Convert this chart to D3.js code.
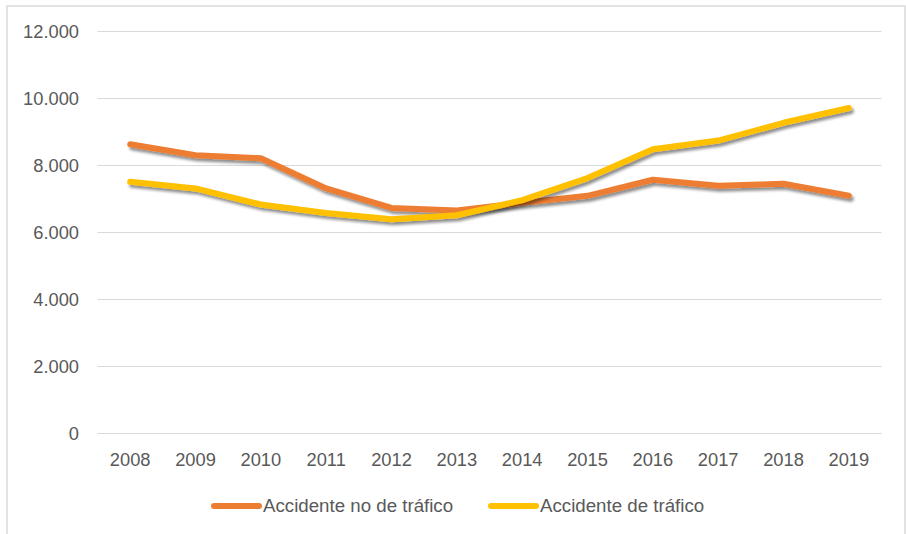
<!DOCTYPE html>
<html>
<head>
<meta charset="utf-8">
<script src="https://cdn.jsdelivr.net/npm/d3@7"></script>
<style>
  body { margin: 0; background: #fff; }
  text { font-family: "Liberation Sans", Arial, sans-serif; fill: #595959; }
</style>
</head>
<body>
<div id="chart"></div>
<script>
/* données */
let years = ['2008', '2009', '2010', '2011', '2012', '2013', '2014', '2015', '2016', '2017', '2018', '2019'];
let noTrafico = [8620, 8290, 8200, 7300, 6720, 6640, 6870, 7080, 7560, 7380, 7440, 7080];
let trafico = [7500, 7300, 6820, 6570, 6380, 6500, 6950, 7610, 8470, 8730, 9260, 9700];
let yTicks = [0, 2000, 4000, 6000, 8000, 10000, 12000];
let seriesNames = ['Accidente no de tráfico', 'Accidente de tráfico'];
let colors = ['#ED7D31', '#FFC000'];

let width = 906,
    height = 534;

let svg = d3.select('#chart').append('svg')
  .attr('width', width)
  .attr('height', height);

/* ombre des lignes */
let filter = svg.append('defs').append('filter')
  .attr('id', 'shadow')
  .attr('x', '-5%').attr('y', '-20%')
  .attr('width', '110%').attr('height', '140%');
filter.append('feGaussianBlur').attr('in', 'SourceAlpha').attr('stdDeviation', 1.8).attr('result', 'blur');
filter.append('feOffset').attr('in', 'blur').attr('dx', 2).attr('dy', 2.5).attr('result', 'off');
filter.append('feComponentTransfer').attr('in', 'off').attr('result', 'shadowA')
  .append('feFuncA').attr('type', 'linear').attr('slope', 0.45);
let merge = filter.append('feMerge');
merge.append('feMergeNode').attr('in', 'shadowA');
merge.append('feMergeNode').attr('in', 'SourceGraphic');

/* cadre */
svg.append('rect')
  .attr('x', 7).attr('y', 6)
  .attr('width', 898).attr('height', 540)
  .attr('fill', 'none')
  .attr('stroke', '#d9d9d9')
  .attr('stroke-width', 1.5);

let xScale = d3.scaleBand()
  .domain(years)
  .range([97.5, 881.5]);

let yScale = d3.scaleLinear()
  .domain([0, 12000])
  .range([433, 31]);

/* grille */
svg.append('g').selectAll('line')
  .data(yTicks)
  .enter()
  .append('line')
  .attr('x1', 97.5)
  .attr('x2', 881.5)
  .attr('y1', (d) => Math.round(yScale(d)) + 0.5)
  .attr('y2', (d) => Math.round(yScale(d)) + 0.5)
  .attr('stroke', '#d9d9d9')
  .attr('stroke-width', 1);

/* axe Y */
let yAxis = d3.axisLeft(yScale)
  .tickValues(yTicks)
  .tickSize(0)
  .tickPadding(0)
  .tickFormat((d) => d3.format(',')(d).replace(/,/g, '.'));

let yAxisGroup = svg.append('g')
  .attr('transform', 'translate(79, 0)')
  .call(yAxis);
yAxisGroup.select('.domain').remove();
yAxisGroup.selectAll('text')
  .attr('font-size', 18.3)
  .attr('font-family', '"Liberation Sans", Arial, sans-serif')
  .attr('fill', '#595959')
  .attr('dy', '0.34em');

/* axe X */
let xAxis = d3.axisBottom(xScale)
  .tickSize(0)
  .tickPadding(0);

let xAxisGroup = svg.append('g')
  .attr('transform', 'translate(0, 433)')
  .call(xAxis);
xAxisGroup.select('.domain').remove();
xAxisGroup.selectAll('text')
  .attr('font-size', 18.3)
  .attr('font-family', '"Liberation Sans", Arial, sans-serif')
  .attr('fill', '#595959')
  .attr('y', 33)
  .attr('dy', 0);

/* lignes */
let line = d3.line()
  .x((d, i) => xScale(years[i]) + xScale.bandwidth() / 2)
  .y((d) => yScale(d));

[noTrafico, trafico].forEach((serie, k) => {
  svg.append('path')
    .datum(serie)
    .attr('d', line)
    .attr('fill', 'none')
    .attr('stroke', colors[k])
    .attr('stroke-width', 6)
    .attr('stroke-linejoin', 'round')
    .attr('stroke-linecap', 'round')
    .attr('filter', 'url(#shadow)');
});

/* légende */
let legendX = [214, 491];
let legend = svg.append('g').selectAll('g')
  .data(seriesNames)
  .enter()
  .append('g')
  .attr('transform', (d, i) => 'translate(' + legendX[i] + ', 506)');

legend.append('line')
  .attr('x1', 0).attr('x2', 45)
  .attr('y1', 0).attr('y2', 0)
  .attr('stroke', (d, i) => colors[i])
  .attr('stroke-width', 6)
  .attr('stroke-linecap', 'round');

legend.append('text')
  .attr('x', 49)
  .attr('y', 6)
  .attr('font-size', 18.7)
  .text((d) => d);
</script>
</body>
</html>
